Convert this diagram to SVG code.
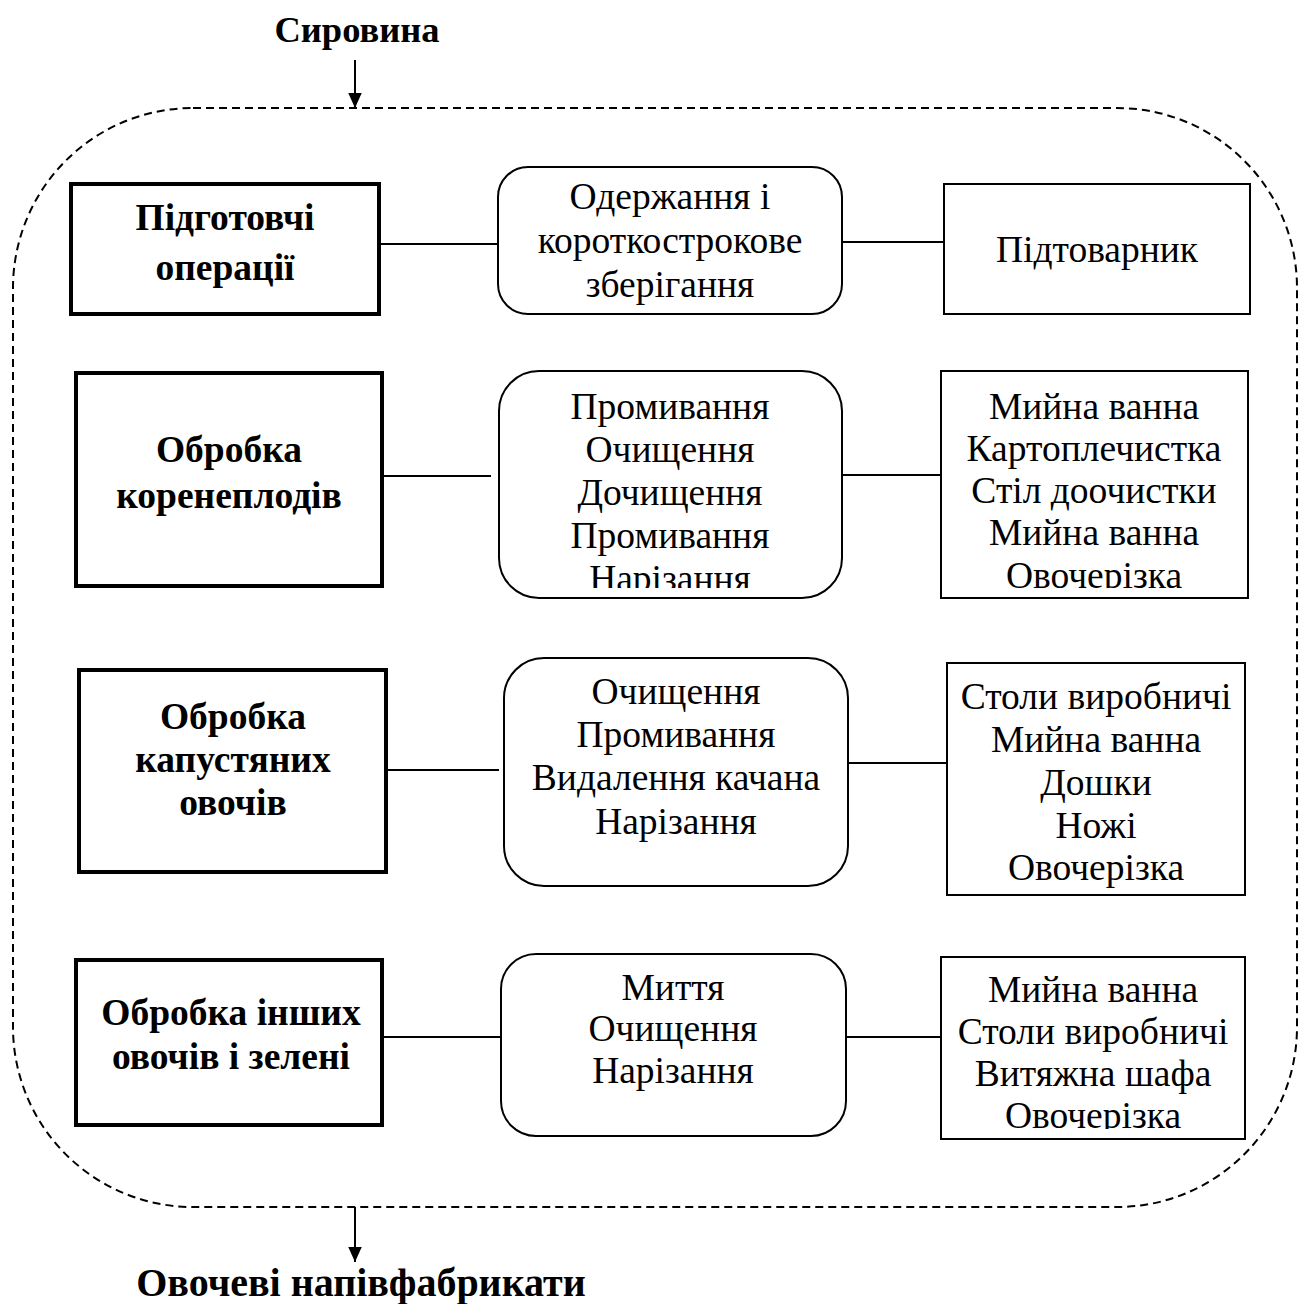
<svg xmlns="http://www.w3.org/2000/svg" width="1299" height="1304" viewBox="0 0 1299 1304">
<style>
.t{font-family:"Liberation Serif","Times New Roman",serif;font-size:37.5px;fill:#000;text-anchor:middle}
.b{font-weight:bold}
.thick{fill:#fff;stroke:#000;stroke-width:4}
.thin{fill:#fff;stroke:#000;stroke-width:2}
.c{stroke:#000;stroke-width:2;fill:none}
</style>
<defs>
<marker id="arr" viewBox="0 0 10 10" refX="10" refY="5" markerWidth="15" markerHeight="15" markerUnits="userSpaceOnUse" orient="auto"><path d="M0,0.5 L10,5 L0,9.5 z" fill="#000"/></marker>
<clipPath id="c2m"><rect x="499" y="371" width="343" height="217"/></clipPath>
<clipPath id="c2r"><rect x="941" y="371" width="307" height="217"/></clipPath>
<clipPath id="c4r"><rect x="941" y="957" width="304" height="172"/></clipPath>
</defs>
<rect x="13" y="108" width="1284" height="1099" rx="180" ry="180" fill="none" stroke="#000" stroke-width="2" stroke-dasharray="8,5"/>
<g id="connectors">
<line class="c" x1="355" y1="60" x2="355" y2="108" marker-end="url(#arr)"/>
<line class="c" x1="355" y1="1207" x2="355" y2="1262" marker-end="url(#arr)"/>
<line class="c" x1="379" y1="244" x2="498" y2="244"/>
<line class="c" x1="842" y1="242" x2="944" y2="242"/>
<line class="c" x1="382" y1="476" x2="491" y2="476"/>
<line class="c" x1="842" y1="475" x2="941" y2="475"/>
<line class="c" x1="386" y1="770" x2="499" y2="770"/>
<line class="c" x1="848" y1="763" x2="947" y2="763"/>
<line class="c" x1="382" y1="1037" x2="501" y2="1037"/>
<line class="c" x1="846" y1="1037" x2="941" y2="1037"/>
</g>
<text id="src" class="t b" x="357" y="42" style="font-size:36.5px">Сировина</text>
<text id="out" class="t b" x="361" y="1296" style="font-size:40px">Овочеві напівфабрикати</text>
<g id="n1l"><rect class="thick" x="71" y="184" width="308" height="130"/>
<text class="t b" x="225" y="230">Підготовчі</text><text class="t b" x="225" y="280">операції</text></g>
<g id="n1m"><rect class="thin" x="498" y="167" width="344" height="147" rx="30"/>
<text class="t" x="670" y="209">Одержання і</text><text class="t" x="670" y="253">короткострокове</text><text class="t" x="670" y="297">зберігання</text></g>
<g id="n1r"><rect class="thin" x="944" y="184" width="306" height="130"/>
<text class="t" x="1097" y="262">Підтоварник</text></g>
<g id="n2l"><rect class="thick" x="76" y="373" width="306" height="213"/>
<text class="t b" x="229" y="462">Обробка</text><text class="t b" x="229" y="508">коренеплодів</text></g>
<g id="n2m"><rect class="thin" x="499" y="371" width="343" height="227" rx="40"/>
<g clip-path="url(#c2m)"><text class="t" x="670" y="419">Промивання</text><text class="t" x="670" y="462">Очищення</text><text class="t" x="670" y="505">Дочищення</text><text class="t" x="670" y="548">Промивання</text><text class="t" x="670" y="591">Нарізання</text></g></g>
<g id="n2r"><rect class="thin" x="941" y="371" width="307" height="227"/>
<g clip-path="url(#c2r)"><text class="t" x="1094" y="419">Мийна ванна</text><text class="t" x="1094" y="461">Картоплечистка</text><text class="t" x="1094" y="503">Стіл доочистки</text><text class="t" x="1094" y="545">Мийна ванна</text><text class="t" x="1094" y="588">Овочерізка</text></g></g>
<g id="n3l"><rect class="thick" x="79" y="670" width="307" height="202"/>
<text class="t b" x="233" y="729">Обробка</text><text class="t b" x="233" y="772">капустяних</text><text class="t b" x="233" y="815">овочів</text></g>
<g id="n3m"><rect class="thin" x="504" y="658" width="344" height="228" rx="40"/>
<text class="t" x="676" y="704">Очищення</text><text class="t" x="676" y="747">Промивання</text><text class="t" x="676" y="790">Видалення качана</text><text class="t" x="676" y="834">Нарізання</text></g>
<g id="n3r"><rect class="thin" x="947" y="663" width="298" height="232"/>
<text class="t" x="1096" y="709">Столи виробничі</text><text class="t" x="1096" y="752">Мийна ванна</text><text class="t" x="1096" y="795">Дошки</text><text class="t" x="1096" y="838">Ножі</text><text class="t" x="1096" y="880">Овочерізка</text></g>
<g id="n4l"><rect class="thick" x="76" y="960" width="306" height="165"/>
<text class="t b" x="231" y="1025">Обробка інших</text><text class="t b" x="231" y="1069">овочів і зелені</text></g>
<g id="n4m"><rect class="thin" x="501" y="954" width="345" height="182" rx="35"/>
<text class="t" x="673" y="1000">Миття</text><text class="t" x="673" y="1041">Очищення</text><text class="t" x="673" y="1083">Нарізання</text></g>
<g id="n4r"><rect class="thin" x="941" y="957" width="304" height="182"/>
<g clip-path="url(#c4r)"><text class="t" x="1093" y="1002">Мийна ванна</text><text class="t" x="1093" y="1044">Столи виробничі</text><text class="t" x="1093" y="1086">Витяжна шафа</text><text class="t" x="1093" y="1128">Овочерізка</text></g></g>
</svg>
